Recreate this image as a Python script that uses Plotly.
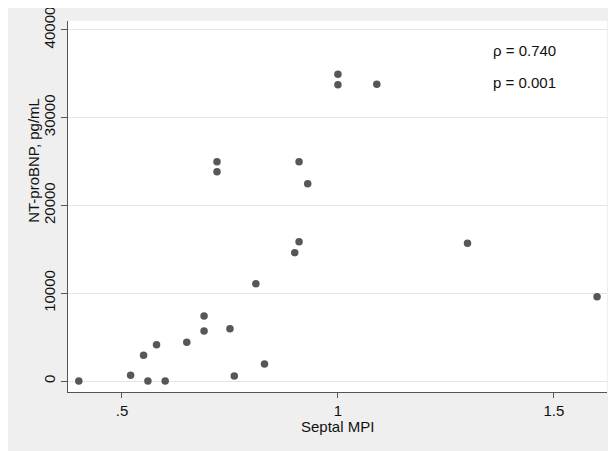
import plotly.graph_objects as go

# Data
septal_mpi = [0.40, 0.52, 0.55, 0.56, 0.58, 0.60, 0.65, 0.69, 0.69, 0.72, 0.72, 0.75,
              0.76, 0.81, 0.83, 0.90, 0.91, 0.91, 0.93, 1.00, 1.00, 1.09, 1.30, 1.60]
nt_probnp = [0, 650, 2930, 0, 4140, 0, 4410, 5700, 7410, 24960, 23820, 5960,
             570, 11090, 1940, 14620, 15870, 24960, 22480, 34950, 33730, 33810, 15690, 9610]

x_tickvals = [0.5, 1.0, 1.5]
x_ticktext = [".5", "1", "1.5"]
y_tickvals = [0, 10000, 20000, 30000, 40000]
y_ticktext = ["0", "10000", "20000", "30000", "40000"]

x_title = "Septal MPI"
y_title = "NT-proBNP, pg/mL"
stats_labels = ["\u03c1 = 0.740", "p = 0.001"]
stats_y = [37650, 33960]
stats_x = 1.433

FONT = "Liberation Sans, Arial, sans-serif"
AXIS_COL = "#555555"

fig = go.Figure()
fig.add_trace(go.Scatter(
    x=septal_mpi, y=nt_probnp, mode="markers",
    marker=dict(size=7.5, color="#575757", line=dict(width=0)),
    hoverinfo="x+y", showlegend=False,
))

for label, yv in zip(stats_labels, stats_y):
    fig.add_annotation(x=stats_x, y=yv, xref="x", yref="y", text=label,
                       showarrow=False, xanchor="center", yanchor="middle",
                       font=dict(family=FONT, size=15, color="#111111"))

# axis titles (placed as in the reference)
fig.add_annotation(x=0.5, y=-0.092, xref="paper", yref="paper", text=x_title,
                   showarrow=False, xanchor="center", yanchor="middle",
                   font=dict(family=FONT, size=15, color="#111111"))
fig.add_annotation(x=-0.0655, y=0.625, xref="paper", yref="paper", text=y_title,
                   showarrow=False, xanchor="center", yanchor="middle", textangle=-90,
                   font=dict(family=FONT, size=15, color="#111111"))

fig.update_layout(
    width=608, height=443,
    margin=dict(l=60, r=9, t=13, b=59, autoexpand=False),
    paper_bgcolor="#efefef", plot_bgcolor="white",
    font=dict(family=FONT, size=15, color="#111111"),
    xaxis=dict(
        range=[0.375, 1.623], tickvals=x_tickvals, ticktext=x_ticktext,
        showgrid=False, zeroline=False, showline=True, linecolor=AXIS_COL, linewidth=1,
        ticks="outside", ticklen=5, tickcolor=AXIS_COL, tickfont=dict(size=15),
        automargin=False, ticklabeloverflow="allow",
    ),
    yaxis=dict(
        range=[-1250, 41000], tickvals=y_tickvals, ticktext=y_ticktext,
        showgrid=True, gridcolor="#e4e4e4", gridwidth=1, zeroline=False,
        showline=True, linecolor=AXIS_COL, linewidth=1,
        ticks="outside", ticklen=6, tickcolor=AXIS_COL, tickangle=-90,
        tickfont=dict(size=15),
        automargin=False, ticklabeloverflow="allow",
    ),
)

fig.write_html("out.html")
